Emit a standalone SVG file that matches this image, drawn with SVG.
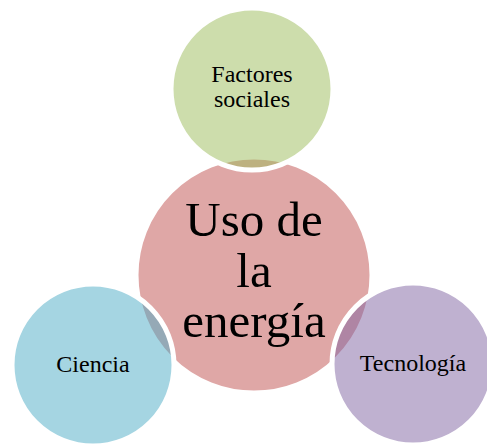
<svg xmlns="http://www.w3.org/2000/svg" width="487" height="445" viewBox="0 0 487 445">
<style>
.c{stroke:#fff;stroke-width:5}
.s{font-family:"Liberation Serif","DejaVu Serif",serif;font-size:24px;fill:#000;text-anchor:middle}
.b{font-family:"Liberation Serif","DejaVu Serif",serif;font-size:49px;fill:#000;text-anchor:middle}
</style>
<rect width="487" height="445" fill="#fff"/>
<g id="center">
<circle class="c" cx="254" cy="275" r="118" fill="#C0504D" fill-opacity="0.5"/>
</g>
<g id="top">
<circle class="c" cx="252" cy="89" r="81" fill="#9BBB59" fill-opacity="0.5"/>
<text class="s" x="252" y="82">Factores</text>
<text class="s" x="252" y="107">sociales</text>
</g>
<g id="left">
<circle class="c" cx="93" cy="365" r="81" fill="#4BACC6" fill-opacity="0.5"/>
<text class="s" x="93" y="372">Ciencia</text>
</g>
<g id="right">
<circle class="c" cx="413" cy="364" r="81" fill="#8064A2" fill-opacity="0.5"/>
<text class="s" x="413" y="371">Tecnología</text>
</g>
<g id="center-label">
<text class="b" x="254" y="236">Uso de</text>
<text class="b" x="254" y="287">la</text>
<text class="b" x="254" y="337">energía</text>
</g>
<g id="connectors"></g>
</svg>
